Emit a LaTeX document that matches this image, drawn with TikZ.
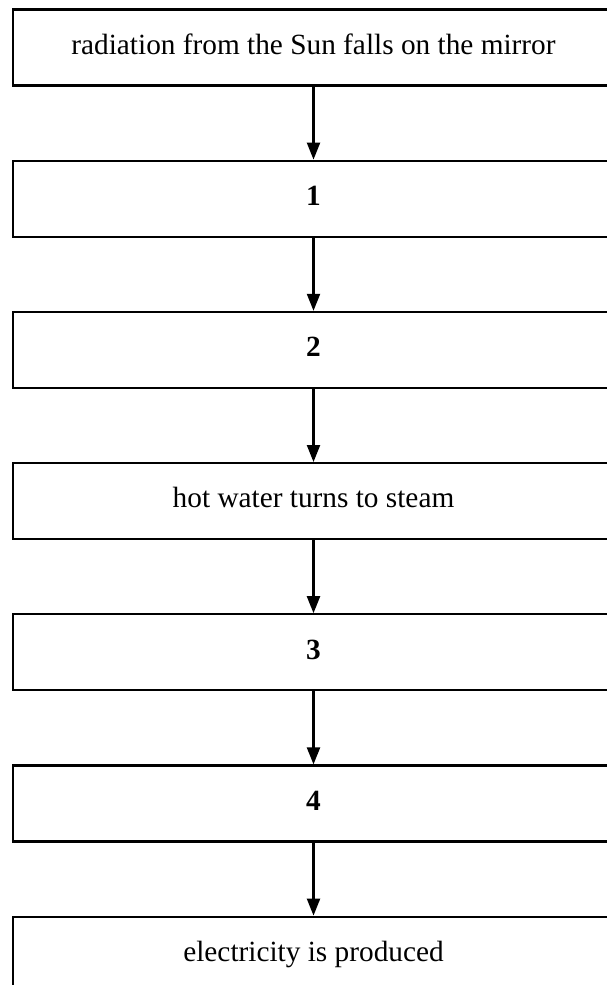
\documentclass[tikz,border=0pt]{standalone}
\usepackage{fontspec}
\setmainfont{Liberation Serif}
\usetikzlibrary{positioning,arrows.meta}
\begin{document}
\begin{tikzpicture}[x=1pt, y=1pt, line width=2.2pt, >={Triangle[length=17pt,width=13pt]},
	font=\fontsize{29.3}{35}\selectfont,
	stage/.style={draw, rectangle, minimum width=601pt, minimum height=76pt, inner sep=0pt, text height=20pt, text depth=6.6pt},
	node distance=73pt]
			\useasboundingbox (0,0) rectangle (607,-985);
			\clip (0,0) rectangle (607,-985);
			\node[stage] (sun) at (313.5,-47.5) {radiation from the Sun falls on the mirror};
			\node[stage, below=of sun] (one) {\textbf{1}};
			\node[stage, below=of one] (two) {\textbf{2}};
			\node[stage, below=of two] (steam) {hot water turns to steam};
			\node[stage, below=of steam] (three) {\textbf{3}};
			\node[stage, below=of three] (four) {\textbf{4}};
			\node[stage, below=of four] (elec) {electricity is produced};
			\foreach \a/\b in {sun/one, one/two, two/steam, steam/three, three/four, four/elec}
				\draw[->] (\a) -- (\b);
			\end{tikzpicture}
\end{document}
